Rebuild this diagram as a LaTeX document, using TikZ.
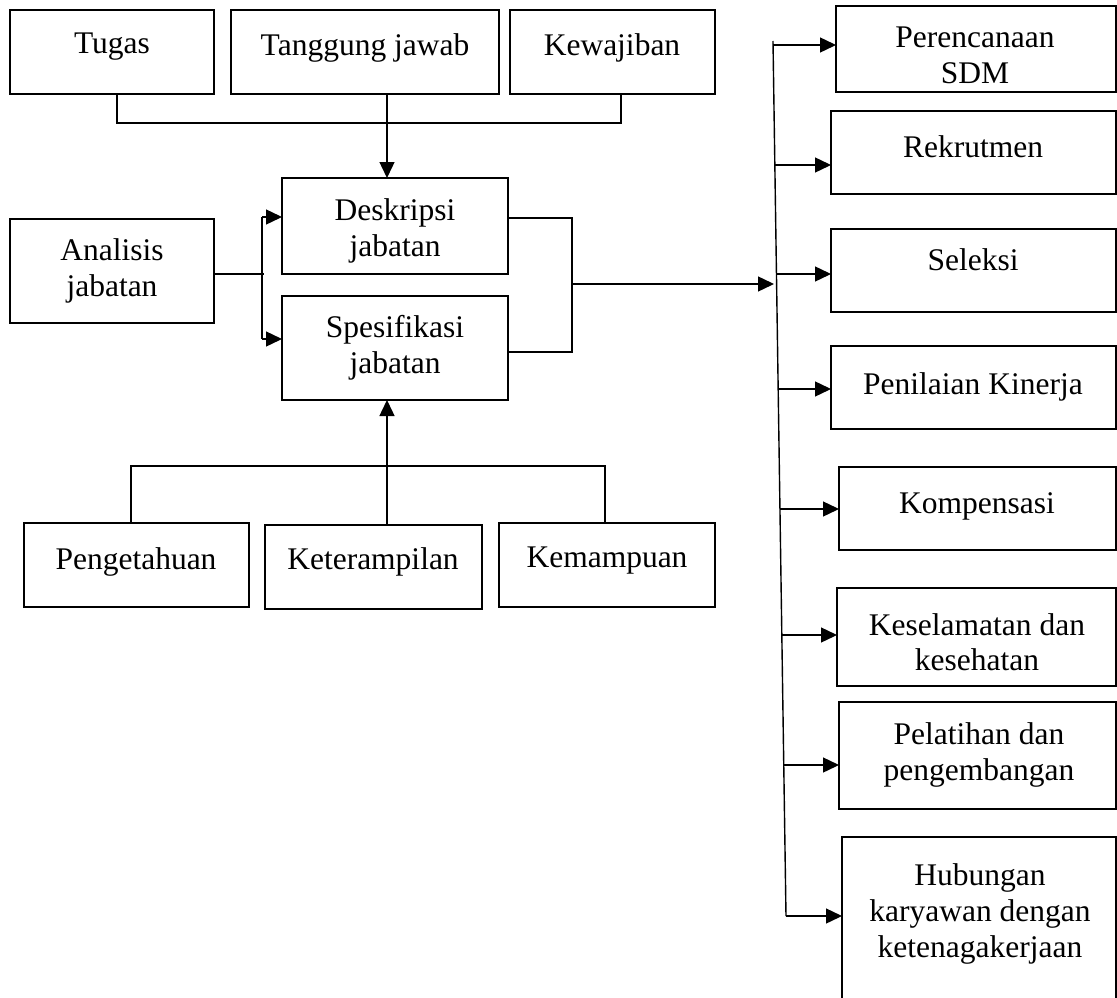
\documentclass[tikz,border=0pt]{standalone}
\usepackage{fontspec}
\setmainfont{Liberation Serif}
\usetikzlibrary{arrows.meta}
\begin{document}
\begin{tikzpicture}[x=1pt,y=-1pt,
  bx/.style={draw, line width=2.6pt, inner sep=0pt, outer sep=0pt},
  tx/.style={anchor=north, inner sep=0pt, align=center, font=\fontsize{31.5}{36}\selectfont},
  ln/.style={line width=1.4pt},
  arr/.style={ln, -{Triangle[length=16pt,width=15pt]}}]
\useasboundingbox (0,0) rectangle (1117,998);

% boxes
\node[bx, minimum width=204pt, minimum height=84pt] (tugas) at (112,52) {};
\node[bx, minimum width=268pt, minimum height=84pt] (tj) at (365,52) {};
\node[bx, minimum width=205pt, minimum height=84pt] (kew) at (612.5,52) {};
\node[bx, minimum width=204pt, minimum height=104pt] (ana) at (112,271) {};
\node[bx, minimum width=226pt, minimum height=96pt] (desk) at (395,226) {};
\node[bx, minimum width=226pt, minimum height=104pt] (spes) at (395,348) {};
\node[bx, minimum width=225pt, minimum height=84pt] (peng) at (136.5,565) {};
\node[bx, minimum width=217pt, minimum height=84pt] (ket) at (373.5,567) {};
\node[bx, minimum width=216pt, minimum height=84pt] (kem) at (607,565) {};
\node[bx, minimum width=280pt, minimum height=86pt] (per) at (976,49) {};
\node[bx, minimum width=285pt, minimum height=83pt] (rek) at (973.5,152.5) {};
\node[bx, minimum width=285pt, minimum height=83pt] (sel) at (973.5,270.5) {};
\node[bx, minimum width=285pt, minimum height=83pt] (pen) at (973.5,387.5) {};
\node[bx, minimum width=277pt, minimum height=83pt] (kom) at (977.5,508.5) {};
\node[bx, minimum width=279pt, minimum height=98pt] (kes) at (976.5,637) {};
\node[bx, minimum width=277pt, minimum height=107pt] (pel) at (977.5,755.5) {};
\node[bx, minimum width=274pt, minimum height=173pt] (hub) at (979,923.5) {};

% texts
\node[tx] (tugas-t) at (112,33) {Tugas};
\node[tx] (tj-t) at (365,33) {Tanggung jawab};
\node[tx] (kew-t) at (612,33) {Kewajiban};
\node[tx] (ana-t) at (112,238) {Analisis\\jabatan};
\node[tx] (desk-t) at (395,198) {Deskripsi\\jabatan};
\node[tx] (spes-t) at (395,315) {Spesifikasi\\jabatan};
\node[tx] (peng-t) at (136,547) {Pengetahuan};
\node[tx] (ket-t) at (373,547) {Keterampilan};
\node[tx] (kem-t) at (607,547) {Kemampuan};
\node[tx, font=\fontsize{31.5}{36}\selectfont] (per-t) at (975,27) {Perencanaan\\SDM};
\node[tx] (rek-t) at (973,135) {Rekrutmen};
\node[tx] (sel-t) at (973,248) {Seleksi};
\node[tx] (pen-t) at (973,372) {Penilaian Kinerja};
\node[tx] (kom-t) at (977,492) {Kompensasi};
\node[tx, font=\fontsize{31.5}{35}\selectfont] (kes-t) at (977,613) {Keselamatan dan\\kesehatan};
\node[tx, font=\fontsize{31.5}{36}\selectfont] (pel-t) at (979,722) {Pelatihan dan\\pengembangan};
\node[tx] (hub-t) at (980,863) {Hubungan\\karyawan dengan\\ketenagakerjaan};

% top connectors
\coordinate (tu) at (117,123);
\coordinate (kw) at (621,123);
\draw[ln] (tugas.south -| tu) -- (tu) -- (kw) -- (kew.south -| kw);
\coordinate (tjx) at (387,0);
\draw[arr] (tj.south -| tjx) -- (desk.north -| tjx);

% analisis branch
\coordinate (aj) at (264,274);
\draw[ln] (ana.east |- aj) -- (aj);
\coordinate (ab1) at (262,217);
\coordinate (ab2) at (262,339);
\draw[ln] (ab1) -- (ab2);
\draw[arr] (ab1) -- (desk.west |- ab1);
\draw[arr] (ab2) -- (spes.west |- ab2);

% join to right
\coordinate (dj) at (572,218);
\coordinate (sj) at (572,352);
\coordinate (mj) at (572,284);
\coordinate (mjend) at (774,284);
\draw[ln] (desk.east |- dj) -- (dj) -- (sj) -- (spes.east |- sj);
\draw[arr] (mj) -- (mjend);

% right bus
\coordinate (rt) at (773,41);
\coordinate (rb) at (786,916);
\draw[ln] (rt) -- (rb);
\draw[arr] (rb) -- (hub.west |- rb);
\coordinate (r1) at (773.1,45);
\coordinate (r2) at (774.8,165);
\coordinate (r3) at (776.5,274);
\coordinate (r4) at (778.2,389);
\coordinate (r5) at (780,509);
\coordinate (r6) at (781.8,635);
\coordinate (r7) at (783.8,765);
\draw[arr] (r1) -- (per.west |- r1);
\draw[arr] (r2) -- (rek.west |- r2);
\draw[arr] (r3) -- (sel.west |- r3);
\draw[arr] (r4) -- (pen.west |- r4);
\draw[arr] (r5) -- (kom.west |- r5);
\draw[arr] (r6) -- (kes.west |- r6);
\draw[arr] (r7) -- (pel.west |- r7);

% bottom connectors
\coordinate (kb) at (131,466);
\coordinate (ke) at (605,466);
\draw[ln] (peng.north -| kb) -- (kb) -- (ke) -- (kem.north -| ke);
\coordinate (sx) at (387,0);
\draw[arr] (ket.north -| sx) -- (spes.south -| sx);
\end{tikzpicture}
\end{document}
